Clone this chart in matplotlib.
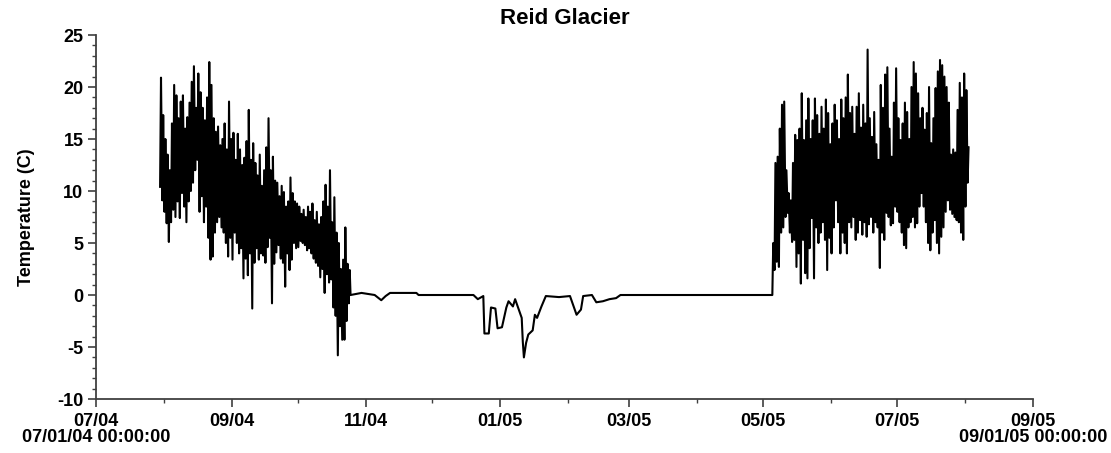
import pandas as pd
import matplotlib
matplotlib.use("Agg")
import matplotlib.pyplot as plt
import matplotlib.dates as mdates
from matplotlib.ticker import MultipleLocator

# daily highs / lows while the logger was in open air (summer/fall 2004)
fall_start = "2004-07-30"
fall_high = [20.9, 17.3, 15.0, 13.5, 12.0, 16.5, 20.2, 19.2, 17.0, 18.6,
             19.2, 16.0, 17.1, 18.5, 20.5, 22.0, 18.0, 21.3, 19.5, 18.0,
             16.8, 19.0, 22.4, 20.2, 17.0, 15.7, 16.2, 14.4, 15.0, 16.5,
             14.0, 18.6, 15.0, 15.6, 13.0, 15.5, 14.0, 12.5, 13.2, 14.8,
             17.8, 13.0, 14.6, 12.7, 11.5, 13.5, 10.5, 12.0, 14.2, 17.0,
             12.0, 13.3, 11.0, 10.8, 9.5, 10.5, 9.9, 8.5, 9.0, 11.3,
             9.8, 9.0, 8.8, 8.5, 7.8, 8.2, 7.5, 8.5, 8.0, 8.8,
             7.2, 8.0, 6.8, 7.5, 9.0, 10.6, 8.5, 12.0, 7.0, 9.4,
             6.0, 5.0, 2.5, 3.4, 6.5, 3.0, 2.4]
fall_low = [10.4, 9.1, 8.0, 6.9, 5.1, 7.0, 8.2, 7.5, 9.0, 7.4,
            9.8, 8.5, 7.0, 9.0, 10.0, 10.8, 12.0, 13.0, 8.0, 9.5,
            7.0, 8.5, 5.5, 3.4, 3.7, 6.0, 7.0, 7.5, 6.5, 6.0,
            5.0, 3.7, 5.5, 3.4, 6.0, 5.0, 4.0, 4.5, 1.6, 3.5,
            1.9, 4.0, -1.3, 3.1, 4.5, 3.4, 4.0, 3.8, 3.1, 4.6,
            5.5, -0.8, 3.0, 4.1, 4.8, 3.5, 3.1, 0.8, 4.0, 2.4,
            3.4, 5.0, 4.5, 4.6, 5.2, 5.0, 4.8, 4.3, 4.5, 4.0,
            3.5, 3.1, 2.8, 1.7, 2.5, 0.2, 2.0, 1.2, 1.5, -1.2,
            -2.0, -5.8, -3.0, -4.3, -4.3, -2.5, -0.8]

# winter: logger buried under snow, readings change only now and then
winter_dates = ["2004-10-25", "2004-10-30", "2004-11-02", "2004-11-05",
                "2004-11-08", "2004-11-10", "2004-11-12", "2004-11-24",
                "2004-11-25", "2004-12-20", "2004-12-22", "2004-12-24 12:00",
                "2004-12-25", "2004-12-27", "2004-12-28", "2004-12-30",
                "2004-12-31", "2005-01-02", "2005-01-04", "2005-01-05",
                "2005-01-07", "2005-01-08", "2005-01-10", "2005-01-11",
                "2005-01-11 12:00", "2005-01-12", "2005-01-13", "2005-01-14",
                "2005-01-16", "2005-01-17", "2005-01-18", "2005-01-20",
                "2005-01-22", "2005-01-28", "2005-02-02", "2005-02-03",
                "2005-02-05", "2005-02-07", "2005-02-08", "2005-02-12",
                "2005-02-14", "2005-02-17", "2005-02-20", "2005-02-23",
                "2005-02-25", "2005-05-05"]
winter_temps = [0.0, 0.2, 0.1, 0.0,
                -0.5, -0.1, 0.2, 0.2,
                0.0, 0.0, -0.4, -0.1,
                -3.7, -3.7, -1.2, -1.3,
                -3.2, -3.1, -1.2, -0.6,
                -1.1, -0.4, -1.6, -2.2,
                -4.5, -6.0, -4.6, -3.8,
                -3.4, -1.9, -2.2, -1.1,
                -0.1, -0.2, -0.1, -0.7,
                -1.9, -1.4, -0.1, 0.0,
                -0.7, -0.6, -0.4, -0.3,
                0.0, 0.0]

# daily highs / lows after melt-out (2005)
summer_start = "2005-05-05"
summer_high = [5.0, 12.7, 13.3, 16.0, 18.3, 18.6, 12.0, 9.8, 9.1, 12.7,
               15.4, 14.9, 16.0, 19.4, 14.9, 16.8, 18.9, 15.0, 16.8, 18.9,
               17.3, 15.5, 18.1, 16.0, 18.8, 17.5, 14.5, 16.5, 18.3, 16.8,
               15.0, 18.8, 17.0, 19.0, 21.2, 17.5, 18.1, 15.5, 18.1, 19.4,
               16.1, 18.3, 16.5, 23.6, 17.0, 15.2, 17.6, 14.5, 13.0, 20.2,
               18.0, 21.2, 21.9, 16.0, 13.3, 18.5, 21.8, 17.0, 14.9, 16.5,
               18.5, 17.6, 15.0, 20.0, 22.4, 21.3, 19.4, 17.0, 18.0, 15.9,
               17.5, 20.0, 14.6, 17.0, 19.9, 21.5, 22.6, 22.1, 21.0, 20.0,
               18.5, 13.5, 14.0, 13.7, 17.8, 20.4, 19.0, 21.3, 19.7, 14.2]
summer_low = [0.0, 2.4, 3.2, 2.7, 6.0, 6.5, 7.5, 7.9, 6.0, 5.1,
              5.3, 2.7, 4.0, 1.1, 5.3, 2.1, 1.6, 4.5, 7.4, 1.6,
              6.5, 5.0, 6.0, 7.0, 5.3, 2.4, 5.5, 4.0, 6.5, 9.1,
              7.0, 4.0, 6.0, 5.0, 4.0, 7.0, 6.5, 7.5, 5.3, 6.0,
              7.2, 5.8, 7.0, 5.6, 6.8, 7.5, 6.0, 7.0, 6.5, 2.6,
              6.0, 5.3, 7.9, 7.5, 6.7, 6.9, 8.5, 8.0, 7.0, 6.0,
              4.8, 4.5, 6.5, 7.0, 7.5, 6.5, 6.9, 8.5, 9.8, 8.5,
              7.0, 5.0, 4.3, 6.0, 7.2, 5.0, 4.0, 5.6, 6.5, 8.0,
              9.1, 8.2, 7.8, 7.5, 7.2, 7.0, 6.0, 5.3, 8.5, 10.8]


def diurnal(start, highs, lows):
    """Expand daily extremes into a low-at-dawn / high-at-afternoon trace."""
    days = pd.date_range(start, periods=len(highs), freq="D")
    t, v = [], []
    for d, hi, lo in zip(days, highs, lows):
        t += [d + pd.Timedelta(hours=5), d + pd.Timedelta(hours=15)]
        v += [lo, hi]
    return t, v


t1, v1 = diurnal(fall_start, fall_high, fall_low)
t3, v3 = diurnal(summer_start, summer_high, summer_low)
t2 = list(pd.to_datetime(winter_dates, format="mixed"))
times = t1 + t2 + t3
temps = v1 + winter_temps + v3

plt.rcParams["font.family"] = ["Liberation Sans", "DejaVu Sans"]
plt.rcParams["font.weight"] = "bold"
plt.rcParams["axes.unicode_minus"] = False

fig = plt.figure(figsize=(11.11, 4.53), dpi=100)
ax = fig.add_axes([0.0864, 0.1192, 0.8434, 0.8035])

ax.plot(times, temps, color="black", lw=1.5)

ax.set_xlim(pd.Timestamp("2004-07-01"), pd.Timestamp("2005-09-01"))
ax.set_ylim(-10, 25)

for side in ("top", "right"):
    ax.spines[side].set_visible(False)
for side in ("left", "bottom"):
    ax.spines[side].set_color("#404040")
    ax.spines[side].set_linewidth(1.3)

ax.xaxis.set_major_locator(mdates.MonthLocator(bymonth=[1, 3, 5, 7, 9, 11]))
ax.xaxis.set_major_formatter(mdates.DateFormatter("%m/%y"))
ax.xaxis.set_minor_locator(mdates.MonthLocator())
ax.yaxis.set_major_locator(MultipleLocator(5))
ax.yaxis.set_minor_locator(MultipleLocator(1))

ax.tick_params(which="major", length=6, width=1.2, color="#404040",
               labelsize=13, pad=4)
ax.tick_params(which="minor", length=3, width=1.0, color="#404040")
ax.tick_params(axis="y", which="major", pad=3)
for lbl in ax.get_xticklabels() + ax.get_yticklabels():
    lbl.set_fontweight("bold")

ax.set_ylabel("Temperature (C)", fontsize=13, fontweight="bold", labelpad=16)
ax.set_title("Reid Glacier", fontsize=16, fontweight="bold", pad=8)

# full start / end timestamps under the first and last ticks
for stamp, label in [("2004-07-01", "07/01/04 00:00:00"),
                     ("2005-09-01", "09/01/05 00:00:00")]:
    ax.annotate(label, xy=(pd.Timestamp(stamp), 0),
                xycoords=("data", "axes fraction"),
                xytext=(0, -27.5), textcoords="offset points",
                ha="center", va="center", fontsize=13, fontweight="bold")

fig.savefig("out.png", dpi=100, facecolor="white")
